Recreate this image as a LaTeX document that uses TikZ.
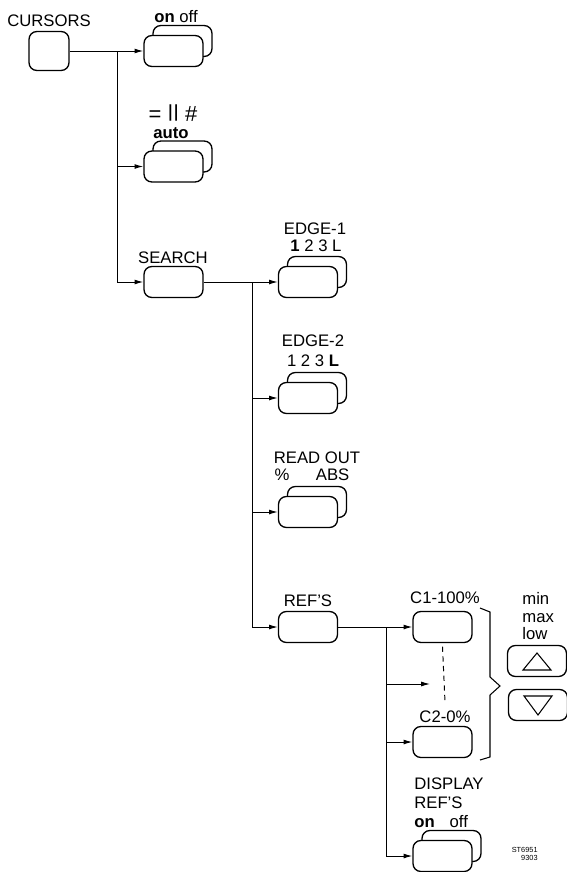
\documentclass[tikz,border=0pt]{standalone}
\usepackage{fontspec}
\setmainfont{Liberation Sans}
\usetikzlibrary{arrows.meta,shadows}

\begin{document}
\begin{tikzpicture}[x=0.02cm,y=-0.02cm,
    font=\fontsize{9.5}{11}\selectfont,
    key/.style={draw, line width=0.75pt, rounded corners=4.5pt, fill=white,
      minimum width=1.18cm, minimum height=0.62cm, inner sep=0pt},
    dblkey/.style={key, copy shadow={shadow xshift=0.18cm, shadow yshift=0.2cm}},
    lbl/.style={inner sep=0pt},
    conn/.style={line width=0.55pt},
    arr/.style={conn, -{Latex[length=5pt,width=2.8pt]}}]
  \useasboundingbox (0,0) rectangle (567,872);

  % top level
  \node[key, minimum width=0.8cm, minimum height=0.78cm] (cursors) at (49,51) {};
  \node[lbl] (cursorsLbl) at (49,21) {CURSORS};

  \node[dblkey] (onoff) at (173.5,51) {};
  \node[lbl] (onoffLbl) at (176,17) {\textbf{on} off};

  \node[dblkey] (auto) at (173.5,166.5) {};
  \node[lbl, anchor=base] (modeLbl) at (173,121.5)
    {\fontsize{12.5}{12.5}\selectfont = \scalebox{1}[0.8]{\raisebox{0.2em}{||}} \#};
  \node[lbl] (autoLbl) at (171,133.5) {\textbf{auto}};

  \node[key] (search) at (173.5,282) {};
  \node[lbl] (searchLbl) at (173,258) {SEARCH};

  % search level
  \node[dblkey] (edge1) at (308,282) {};
  \node[lbl] (edge1Lbl) at (315,229) {EDGE-1};
  \node[lbl] (edge1Sel) at (316,246) {\textbf{1} 2 3 L};

  \node[dblkey] (edge2) at (308,398) {};
  \node[lbl] (edge2Lbl) at (313,341) {EDGE-2};
  \node[lbl] (edge2Sel) at (313,361) {1 2 3 \textbf{L}};

  \node[dblkey] (readout) at (308,512) {};
  \node[lbl] (readoutLbl) at (317,458) {READ OUT};
  \node[lbl] (readoutSel) at (312,475) {\%\hspace{15pt}ABS};

  \node[key] (refs) at (308,627) {};
  \node[lbl] (refsLbl) at (308,601) {REF'S};

  % refs level
  \node[key] (c1) at (442.5,627) {};
  \node[lbl] (c1Lbl) at (445,598) {C1-100\%};
  \node[key] (c2) at (442.5,742) {};
  \node[lbl] (c2Lbl) at (445,717) {C2-0\%};

  \node[dblkey] (display) at (442.5,856) {};
  \node[lbl, anchor=north west, align=left, font=\fontsize{9.5}{11}\selectfont]
    (displayLbl) at (414,777) {DISPLAY\\REF'S\\\textbf{on}\hspace{8.5pt}off};

  % up / down keys
  \node[lbl, anchor=north west, align=left, font=\fontsize{9.5}{10}\selectfont]
    (rangeLbl) at (522,592) {min\\max\\low};
  \node[key] (up) at (537,661) {};
  \node[key] (down) at (538,705) {};
  \draw[line width=0.6pt] (523,670) -- (551,670) -- (537,653) -- cycle;
  \draw[line width=0.6pt] (524,696) -- (552,696) -- (538,715) -- cycle;

  % brace
  \draw[line width=0.6pt] (480,608) -- (490,612) -- (490,677) -- (500,686)
    -- (490,695) -- (490,757) -- (480,760);

  % connectors
  \coordinate (t1) at (117,51);
  \coordinate (t2) at (252,282);
  \coordinate (t3) at (386,627);
  \coordinate (mid) at (430,684);

  \draw[arr] (cursors) -- (onoff);
  \draw[conn] (t1) -- (t1 |- search);
  \draw[arr] (t1 |- auto) -- (auto);
  \draw[arr] (t1 |- search) -- (search);

  \draw[arr] (search) -- (edge1);
  \draw[conn] (t2) -- (t2 |- refs);
  \draw[arr] (t2 |- edge2) -- (edge2);
  \draw[arr] (t2 |- readout) -- (readout);
  \draw[arr] (t2 |- refs) -- (refs);

  \draw[arr] (refs) -- (c1);
  \draw[conn] (t3) -- (t3 |- display);
  \draw[arr] (t3 |- mid) -- (mid);
  \draw[arr] (t3 |- c2) -- (c2);
  \draw[arr] (t3 |- display) -- (display);

  \draw[conn, dashed, dash pattern=on 3pt off 2.5pt] ([yshift=-2pt]c1.south) -- ([yshift=5pt]c2Lbl.north);

  % code
  \node[lbl, font=\fontsize{4.2}{4.5}\selectfont, align=right, anchor=north east]
    (code) at (538,847) {ST6951\\9303};
\end{tikzpicture}
\end{document}
